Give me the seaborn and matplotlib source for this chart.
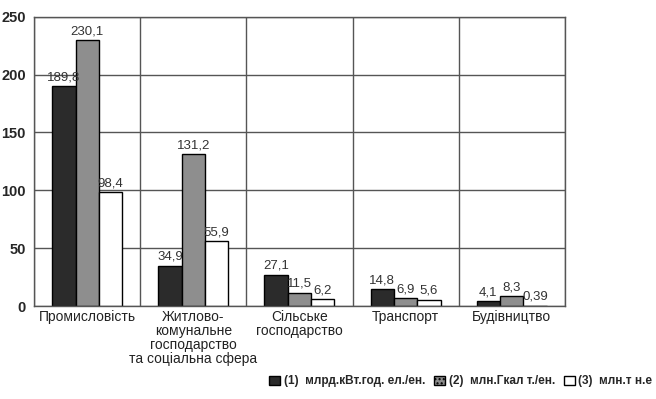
import pandas as pd
import numpy as np
import matplotlib.pyplot as plt
import seaborn as sns
from matplotlib.patches import Patch

categories = ['Промисловість',
              'Житлово-\nкомунальне\nгосподарство\nта соціальна сфера',
              'Сільське\nгосподарство',
              'Транспорт',
              'Будівництво']
series = ['(1)  млрд.кВт.год. ел./ен.', '(2)  млн.Гкал т./ен.', '(3)  млн.т н.е']
elec = [189.8, 34.9, 27.1, 14.8, 4.1]
heat = [230.1, 131.2, 11.5, 6.9, 8.3]
fuel = [98.4, 55.9, 6.2, 5.6, 0.39]
colors = ['#2b2b2b', '#8e8e8e', '#ffffff']

df = pd.DataFrame({
    'cat': categories * 3,
    'series': [series[0]] * 5 + [series[1]] * 5 + [series[2]] * 5,
    'val': elec + heat + fuel,
})

sns.set_style('white')
plt.rcParams['font.family'] = ['Liberation Sans', 'DejaVu Sans']

fig, ax = plt.subplots(figsize=(6.56, 3.99), dpi=100)
fig.subplots_adjust(left=0.052, right=0.861, top=0.958, bottom=0.233)

sns.barplot(data=df, x='cat', y='val', hue='series', palette=colors,
            edgecolor='black', linewidth=1.0, width=0.66, ax=ax, legend=False)

for cont in ax.containers:
    vals = [b.get_height() for b in cont]
    ax.bar_label(cont, labels=[f"{v:g}".replace('.', ',') for v in vals],
                 padding=2, fontsize=9.5, color='#333333')

ax.set_ylim(0, 250)
ax.set_xlim(-0.5, 4.5)
ax.set_yticks(range(0, 251, 50))
ax.set_yticklabels([str(v) for v in range(0, 251, 50)], fontsize=10.5, fontweight='bold')
ax.set_xticks(range(5))
ax.set_xticklabels(categories, fontsize=10, color='#222222', linespacing=1.0, va='top')
ax.set_xticks(np.arange(-0.5, 5, 1), minor=True)
ax.tick_params(axis='x', which='major', length=0, pad=3)
ax.tick_params(axis='x', which='minor', length=5, color='#555555')
ax.tick_params(axis='y', length=4, color='#555555', pad=2)
ax.yaxis.grid(True, color='#555555', linewidth=1.0)
ax.xaxis.grid(True, which='minor', color='#555555', linewidth=1.0)
ax.set_axisbelow(True)
for s in ax.spines.values():
    s.set_color('#555555')
    s.set_linewidth(1.0)
ax.set_xlabel('')
ax.set_ylabel('')

handles = [Patch(facecolor=colors[0], edgecolor='black'),
           Patch(facecolor=colors[1], edgecolor='black', hatch='....'),
           Patch(facecolor=colors[2], edgecolor='black')]
fig.legend(handles, series, loc='lower right', bbox_to_anchor=(1.0, 0.02), ncol=3,
           frameon=False, handlelength=0.9, handleheight=0.9, borderpad=0.2,
           borderaxespad=0.1, handletextpad=0.3, columnspacing=0.8,
           prop={'weight': 'bold', 'size': 8.5})

fig.savefig('out.png', dpi=100)
